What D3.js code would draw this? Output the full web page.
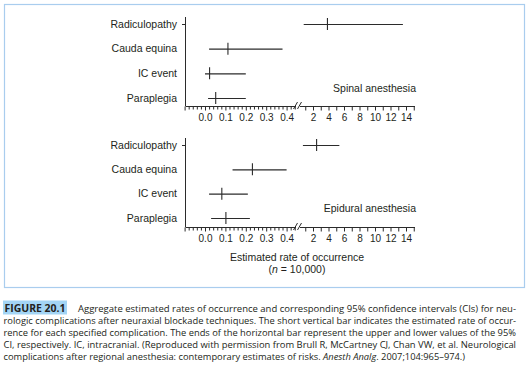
<!DOCTYPE html>
<html>
<head>
<meta charset="utf-8">
<script src="https://cdn.jsdelivr.net/npm/d3@7"></script>
<style>
  body { margin: 0; background: #fff; }
  svg text { fill: #231f20; }
</style>
</head>
<body>
<svg id="chart" width="530" height="372"></svg>
<script>
// data
const complications = ["Radiculopathy", "Cauda equina", "IC event", "Paraplegia"];
const spinalEst = [3.8, 0.11, 0.02, 0.05];
const spinalLow = [0.8, 0.02, 0.0, 0.015];
const spinalHigh = [13.6, 0.38, 0.2, 0.2];
const epiduralEst = [2.4, 0.23, 0.08, 0.10];
const epiduralLow = [0.7, 0.135, 0.02, 0.03];
const epiduralHigh = [5.4, 0.40, 0.21, 0.22];
const leftTickLabels = [0.0, 0.1, 0.2, 0.3, 0.4];
const rightTickLabels = [2, 4, 6, 8, 10, 12, 14];

const captionLines = [
  "rologic complications after neuraxial blockade techniques. The short vertical bar indicates the estimated rate of occur-",
  "rence for each specified complication. The ends of the horizontal bar represent the upper and lower values of the 95%",
  "CI, respectively. IC, intracranial. (Reproduced with permission from Brull R, McCartney CJ, Chan VW, et al. Neurological"
];

const svg = d3.select("#chart");
const ink = "#2b2b2b";
const chartFont = "10.5px 'Liberation Sans', Arial, sans-serif";

// frame round the chart
svg.append("rect")
  .attr("x", 4.5).attr("y", 4.5)
  .attr("width", 520).attr("height", 283)
  .attr("fill", "none")
  .attr("stroke", "#a9cdee")
  .attr("stroke-width", 1.2);

// broken x axis: small values on the left, large ones on the right
const xLeft = d3.scaleLinear().domain([0, 0.4]).range([205, 286.6]);
const xRight = d3.scaleLinear().domain([2, 14]).range([313, 406]);
const xPos = v => v > 0.5 ? xRight(v) : xLeft(v);

const panels = [
  { name: "Spinal anesthesia", est: spinalEst, low: spinalLow, high: spinalHigh, top: 24, bottom: 98, axisY: 106 },
  { name: "Epidural anesthesia", est: epiduralEst, low: epiduralLow, high: epiduralHigh, top: 145, bottom: 218, axisY: 227 }
];

panels.forEach(p => {
  const g = svg.append("g");
  const y = d3.scalePoint().domain(complications).range([p.top, p.bottom]);

  // y axis
  g.append("line")
    .attr("x1", 185.5).attr("x2", 185.5)
    .attr("y1", p.top - 7).attr("y2", p.axisY)
    .attr("stroke", ink);
  g.append("line")
    .attr("x1", 182).attr("x2", 185.5)
    .attr("y1", y(complications[0]) + 0.5).attr("y2", y(complications[0]) + 0.5)
    .attr("stroke", ink);

  g.selectAll("text.cat")
    .data(complications)
    .join("text")
    .attr("class", "cat")
    .attr("x", 177)
    .attr("y", d => y(d))
    .attr("dy", "0.35em")
    .attr("text-anchor", "end")
    .style("font", chartFont)
    .text(d => d);

  // confidence intervals
  g.selectAll("line.ci")
    .data(complications)
    .join("line")
    .attr("class", "ci")
    .attr("x1", (d, i) => xPos(p.low[i]))
    .attr("x2", (d, i) => xPos(p.high[i]))
    .attr("y1", d => y(d) + 0.5)
    .attr("y2", d => y(d) + 0.5)
    .attr("stroke", ink)
    .attr("stroke-width", 1.1);

  g.selectAll("line.est")
    .data(complications)
    .join("line")
    .attr("class", "est")
    .attr("x1", (d, i) => xPos(p.est[i]) + 0.5)
    .attr("x2", (d, i) => xPos(p.est[i]) + 0.5)
    .attr("y1", d => y(d) - 6)
    .attr("y2", d => y(d) + 6)
    .attr("stroke", ink)
    .attr("stroke-width", 1.1);

  // x axis lines with break
  g.append("line")
    .attr("x1", 185.5).attr("x2", 296)
    .attr("y1", p.axisY + 0.5).attr("y2", p.axisY + 0.5)
    .attr("stroke", ink);
  g.append("line")
    .attr("x1", 300).attr("x2", 415)
    .attr("y1", p.axisY + 0.5).attr("y2", p.axisY + 0.5)
    .attr("stroke", ink);
  [295.5, 299.5].forEach(bx => {
    g.append("line")
      .attr("x1", bx - 2).attr("x2", bx + 2)
      .attr("y1", p.axisY + 3).attr("y2", p.axisY - 4)
      .attr("stroke", ink);
  });

  const tickFont = "10px 'Liberation Sans', Arial, sans-serif";

  // left segment: minor ticks every 0.02, labelled every 0.1
  const minor = d3.range(-0.08, 0.45, 0.02).filter(v => Math.abs((v * 100) % 10) > 0.5 && Math.abs((v * 100) % 10) < 9.5);
  const major = d3.range(-0.1, 0.45, 0.1);
  const axMinor = g.append("g")
    .attr("transform", `translate(0,${p.axisY + 0.5})`)
    .call(d3.axisBottom(xLeft).tickValues(minor).tickSize(3).tickFormat(""));
  axMinor.select(".domain").remove();
  const axMajor = g.append("g")
    .attr("transform", `translate(0,${p.axisY + 0.5})`)
    .call(d3.axisBottom(xLeft).tickValues(major).tickSize(4).tickFormat(""));
  axMajor.select(".domain").remove();
  const axLeftLab = g.append("g")
    .attr("transform", `translate(0,${p.axisY + 0.5})`)
    .call(d3.axisBottom(xLeft).tickValues(leftTickLabels).tickSize(0).tickPadding(7).tickFormat(d3.format(".1f")));
  axLeftLab.select(".domain").remove();

  // right segment: ticks every 1, labelled every 2
  const axRight = g.append("g")
    .attr("transform", `translate(0,${p.axisY + 0.5})`)
    .call(d3.axisBottom(xRight).tickValues(d3.range(1, 16)).tickSize(4).tickFormat(""));
  axRight.select(".domain").remove();
  const axRightLab = g.append("g")
    .attr("transform", `translate(0,${p.axisY + 0.5})`)
    .call(d3.axisBottom(xRight).tickValues(rightTickLabels).tickSize(0).tickPadding(7).tickFormat(d3.format("d")));
  axRightLab.select(".domain").remove();

  g.selectAll(".tick line").attr("stroke", ink);
  g.selectAll(".tick text").style("font", tickFont).attr("fill", "#231f20");

  g.append("text")
    .attr("x", 416)
    .attr("y", p.bottom - 10)
    .attr("dy", "0.35em")
    .attr("text-anchor", "end")
    .style("font", chartFont)
    .text(p.name);
});

// x axis title
svg.append("text")
  .attr("x", 297).attr("y", 257).attr("dy", "0.35em")
  .attr("text-anchor", "middle")
  .style("font", chartFont)
  .text("Estimated rate of occurrence");
const nLab = svg.append("text")
  .attr("x", 297).attr("y", 269.5).attr("dy", "0.35em")
  .attr("text-anchor", "middle")
  .style("font", chartFont);
nLab.append("tspan").text("(");
nLab.append("tspan").style("font-style", "italic").text("n");
nLab.append("tspan").text(" = 10,000)");

// caption
const capFont = "9.6px 'Open Sans', 'Noto Sans', sans-serif";
const base0 = 311.5, lineH = 12.2;

svg.append("rect")
  .attr("x", 3).attr("y", 300.5)
  .attr("width", 64).attr("height", 14)
  .attr("fill", "#a3d5f5");
svg.append("text")
  .attr("x", 4.5).attr("y", base0)
  .attr("textLength", 61).attr("lengthAdjust", "spacingAndGlyphs")
  .style("font", "bold 10.5px 'Open Sans', 'Noto Sans', sans-serif")
  .text("FIGURE 20.1");
svg.append("text")
  .attr("x", 78).attr("y", base0)
  .attr("textLength", 438).attr("lengthAdjust", "spacingAndGlyphs")
  .style("font", capFont)
  .text("Aggregate estimated rates of occurrence and corresponding 95% confidence intervals (CIs) for neu-");

captionLines.forEach((t, i) => {
  svg.append("text")
    .attr("x", 3.5).attr("y", base0 + lineH * (i + 1))
    .attr("textLength", 512.5).attr("lengthAdjust", "spacingAndGlyphs")
    .style("font", capFont)
    .text(t);
});

// last line is not justified: size it so it ends where the reference does
const last = svg.append("text")
  .attr("x", 3.5).attr("y", base0 + lineH * 4)
  .style("font", capFont);
last.append("tspan").text("complications after regional anesthesia: contemporary estimates of risks. ");
last.append("tspan").style("font-style", "italic").text("Anesth Analg");
last.append("tspan").text(". 2007;104:965–974.)");
const natural = last.node().getComputedTextLength();
last.style("font-size", (9.6 * 462 / natural) + "px");
</script>
</body>
</html>
